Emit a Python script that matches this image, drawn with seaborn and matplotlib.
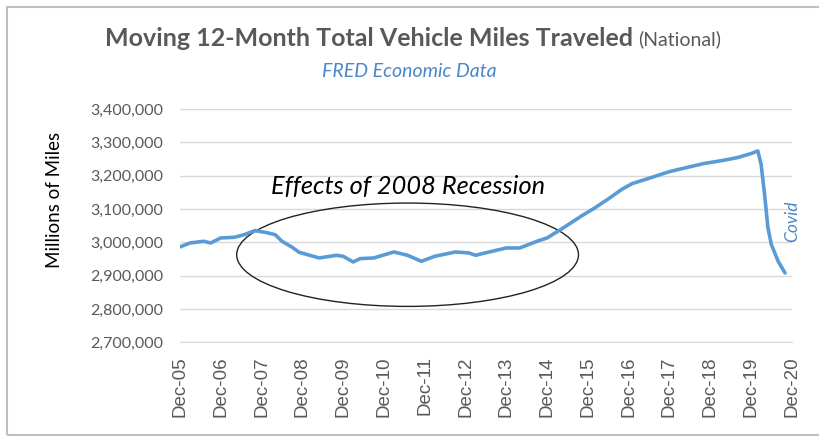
import matplotlib
matplotlib.use("Agg")
import matplotlib.pyplot as plt
import matplotlib.dates as mdates
from matplotlib.patches import Ellipse, Rectangle
from matplotlib.ticker import FuncFormatter
import seaborn as sns
import pandas as pd

# values (millions of miles, moving 12-month total)
dates = ["2005-12", "2006-03", "2006-07", "2006-09", "2006-12", "2007-04", "2007-07",
         "2007-10", "2008-01", "2008-04", "2008-06", "2008-09", "2008-11", "2009-05",
         "2009-10", "2009-12", "2010-03", "2010-05", "2010-09", "2011-03", "2011-07",
         "2011-11", "2012-03", "2012-09", "2013-01", "2013-03", "2013-07", "2013-12",
         "2014-04", "2014-09", "2014-12", "2015-04", "2015-10", "2016-02", "2016-06",
         "2016-10", "2017-01", "2017-06", "2017-12", "2018-05", "2018-10", "2019-04",
         "2019-08", "2019-12", "2020-02", "2020-03", "2020-04", "2020-05", "2020-06",
         "2020-08", "2020-10"]
vmt = [2986000, 2998000, 3003000, 2998000, 3013000, 3015000, 3023000,
       3035000, 3030000, 3023000, 3003000, 2985000, 2970000, 2953000,
       2961000, 2958000, 2941000, 2951000, 2953000, 2971000, 2961000,
       2943000, 2958000, 2971000, 2968000, 2961000, 2971000, 2983000,
       2983000, 3003000, 3013000, 3038000, 3078000, 3103000, 3130000,
       3159000, 3176000, 3192000, 3212000, 3224000, 3236000, 3246000,
       3254000, 3266000, 3274000, 3234000, 3144000, 3044000, 2993000,
       2943000, 2908000]
tick_years = list(range(2005, 2021))

df = pd.DataFrame({"date": pd.to_datetime(dates), "vmt": vmt})

sns.set_style("white")
plt.rcParams["font.family"] = ["Lato", "DejaVu Sans"]

grey = "#595959"
blue_line = "#5B9BD5"
blue_text = "#4A86C8"

fig = plt.figure(figsize=(8.19, 4.37), dpi=100)
ax = fig.add_axes([0.2198, 0.2167, 0.747, 0.534])

sns.lineplot(data=df, x="date", y="vmt", ax=ax, color=blue_line, linewidth=2.6)

ax.set_ylim(2700000, 3400000)
ax.set_yticks(range(2700000, 3400001, 100000))
ax.yaxis.set_major_formatter(FuncFormatter(lambda v, p: f"{int(v):,}"))
ax.set_xlim(pd.Timestamp("2005-12-01"), pd.Timestamp("2020-12-01"))
ticks = [pd.Timestamp(f"{y}-12-01") for y in tick_years]
ax.set_xticks(ticks)
ax.xaxis.set_major_formatter(mdates.DateFormatter("%b-%y"))

ax.grid(axis="y", color="#D9D9D9", linewidth=1)
ax.grid(axis="x", visible=False)
for s in ["top", "right", "left"]:
    ax.spines[s].set_visible(False)
ax.spines["bottom"].set_color("#D9D9D9")
ax.tick_params(axis="x", direction="out", length=5, color="#D9D9D9", rotation=90,
               labelcolor=grey, labelsize=13.5, pad=5)
ax.tick_params(axis="y", length=0, labelcolor=grey, labelsize=11.5, pad=12)
for lab in ax.get_xticklabels():
    lab.set_family("Liberation Sans")

ax.set_xlabel("")
ax.set_ylabel("")
fig.text(55 / 819, 1 - 200 / 437, "Millions of Miles", rotation=90, ha="center",
         va="center", fontsize=13.5, color="black")

# recession ellipse
center = mdates.date2num(pd.Timestamp("2011-07-01"))
ax.add_patch(Ellipse((center, 2962700), width=3061, height=310000,
                     fill=False, edgecolor="#222222", linewidth=1))
ax.text(center, 3167000, "Effects of 2008 Recession", ha="center", va="center",
        fontsize=18.3, style="italic", color="black")
ax.text(1.0, 0.52, "Covid", transform=ax.transAxes, rotation=90, ha="center",
        va="center", fontsize=12.5, style="italic", color=blue_text)

# titles
t1 = fig.text(105 / 819, 0.913, "Moving 12-Month Total Vehicle Miles Traveled", ha="left",
              va="center", fontsize=18, fontweight="bold", color=grey)
fig.canvas.draw()
bb = t1.get_window_extent(renderer=fig.canvas.get_renderer())
fig.text((bb.x1 + 5) / fig.bbox.width, 0.911, "(National)", ha="left", va="center",
         fontsize=14, color=grey)
fig.text(409 / 819, 0.837, "FRED Economic Data", ha="center", va="center", fontsize=14,
         style="italic", color=blue_text)

fig.patches.append(Rectangle((0.009, 0.004), 1.2, 0.98, transform=fig.transFigure,
                             fill=False, edgecolor="#BFBFBF", linewidth=1.5))

fig.savefig("out.png", dpi=100)
